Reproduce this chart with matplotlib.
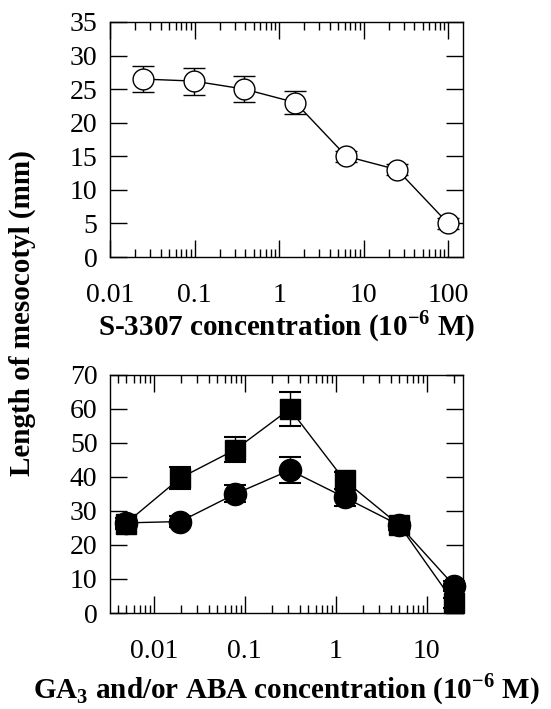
"""Mesocotyl length vs. S-3307 and GA3 / ABA concentration (two stacked log-x panels)."""

import matplotlib
matplotlib.use("Agg")
import matplotlib.pyplot as plt
from matplotlib.ticker import LogLocator, NullFormatter, FixedLocator

plt.rcParams.update({"font.family": ["Liberation Serif", "DejaVu Serif"],
                     "mathtext.fontset": "custom", "mathtext.rm": "Liberation Serif",
                     "mathtext.bf": "Liberation Serif:bold",
                     "font.size": 20, "axes.linewidth": 1.0})

# upper panel: S-3307
s3307_conc = [0.0244, 0.0977, 0.39, 1.5625, 6.25, 25, 100]
s3307_len = [26.5, 26.2, 25.0, 23.0, 15.0, 13.0, 5.0]
s3307_err = [2.0, 2.0, 1.95, 1.75, 0.8, 0.8, 0.8]

# lower panel: GA3 and/or ABA
ga_conc = [0.0049, 0.0195, 0.078, 0.3125, 1.25, 5, 20]
sq_len = [26.3, 39.7, 48.0, 60.0, 39.0, 25.8, 3.0]       # filled squares
sq_err = [1.5, 3.3, 3.7, 5.0, 2.5, 1.5, 1.5]
ci_len = [26.5, 26.9, 35.0, 42.0, 34.0, 25.8, 8.0]       # filled circles
ci_err = [1.5, 1.5, 2.5, 3.9, 2.6, 1.5, 1.5]

LABEL_KW = dict(fontweight="bold", fontsize=21)


def style(ax, xlim, ylim, yticks):
    ax.set_xscale("log")
    ax.set_xlim(*xlim)
    ax.set_ylim(*ylim)
    ax.yaxis.set_major_locator(FixedLocator(yticks))
    ax.xaxis.set_major_locator(LogLocator(base=10, numticks=12))
    ax.xaxis.set_minor_locator(LogLocator(base=10, subs=range(2, 10), numticks=12))
    ax.xaxis.set_minor_formatter(NullFormatter())
    ax.xaxis.set_major_formatter(plt.FuncFormatter(lambda v, p: f"{v:g}"))
    ax.tick_params(which="both", direction="in", top=True, right=True, width=1.0)
    ax.tick_params(which="major", length=12)
    ax.tick_params(which="minor", length=6)
    ax.tick_params(axis="x", which="major", pad=19)
    ax.tick_params(axis="y", which="major", pad=9)


fig = plt.figure(figsize=(5.51, 7.09), dpi=100)
ax1 = fig.add_axes([0.1996, 0.6375, 0.6407, 0.3315])
ax2 = fig.add_axes([0.1996, 0.1354, 0.6407, 0.3357])

ax1.errorbar(s3307_conc, s3307_len, yerr=s3307_err, color="black", lw=1.0,
             marker="o", ms=15, mfc="white", mec="black", mew=1.0,
             capsize=8, capthick=1.5, elinewidth=1.0, clip_on=False, zorder=3)
style(ax1, (0.01, 150), (0, 35), range(0, 36, 5))
ax1.set_xlabel("S-3307 concentration (10$^{\\mathbf{-6}}$ M)", labelpad=0, **LABEL_KW)

ax2.errorbar(ga_conc, sq_len, yerr=sq_err, color="black", lw=1.0,
             marker="s", ms=15, mfc="black", mec="black",
             capsize=8, capthick=1.5, elinewidth=1.0, clip_on=False, zorder=3)
ax2.errorbar(ga_conc, ci_len, yerr=ci_err, color="black", lw=1.0,
             marker="o", ms=16, mfc="black", mec="black",
             capsize=8, capthick=1.5, elinewidth=1.0, clip_on=False, zorder=4)
style(ax2, (0.0033, 25), (0, 70), range(0, 71, 10))
ax2.set_xlabel("GA$_{\\mathbf{3}}$ and/or ABA concentration (10$^{\\mathbf{-6}}$ M)",
               labelpad=5, **LABEL_KW)

fig.text(0.04, 0.558, "Length of mesocotyl (mm)", rotation=90,
         ha="center", va="center", **LABEL_KW)

fig.savefig("out.png", dpi=100)
